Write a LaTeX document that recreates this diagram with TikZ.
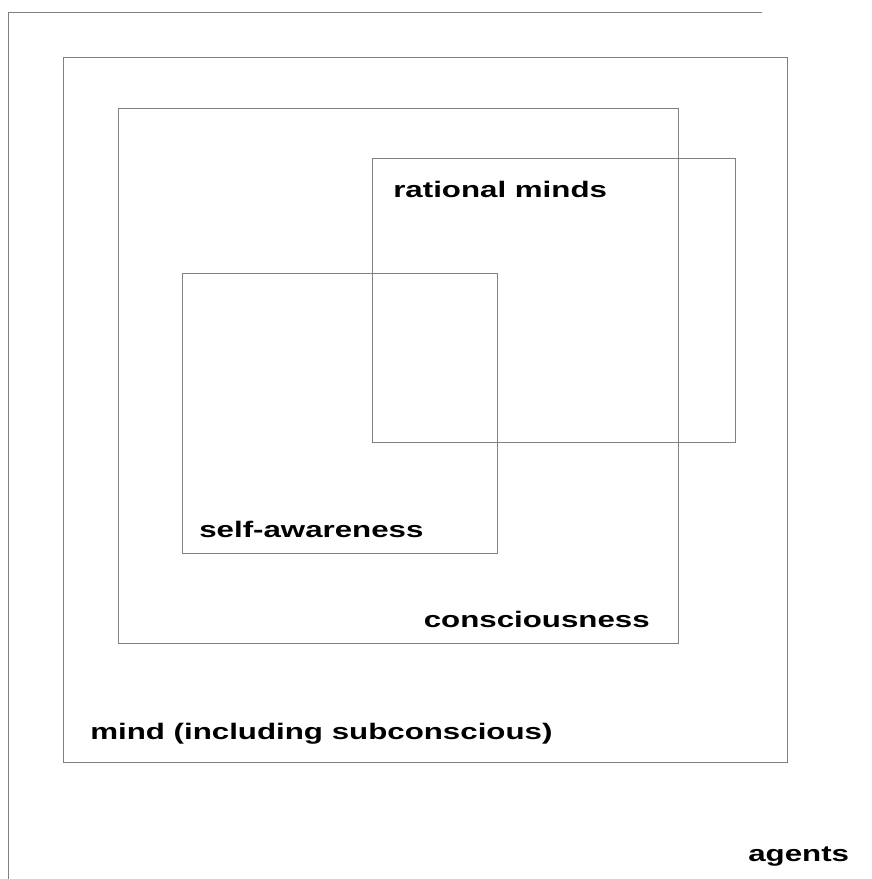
\documentclass[tikz,border=0pt]{standalone}
\usepackage{fontspec}
\setmainfont{Liberation Sans}
\begin{document}
\begin{tikzpicture}[x=1pt,y=-1pt,
  boxline/.style={draw=black!50,line width=1pt},
  lbl/.style={inner sep=0pt,xscale=1.39,font=\fontsize{22.5}{27}\selectfont\bfseries}]
\useasboundingbox (0,0) rectangle (872,879);
% nested regions
\draw[boxline] (8,879) -- (8,12) -- (762,12);
\draw[boxline] (63,57) rectangle (787,762);
\draw[boxline] (118,108) rectangle (678,643);
\draw[boxline] (372,158) rectangle (735,442);
\draw[boxline] (182,273) rectangle (497,553);
% labels
\node[lbl,anchor=base west] (rat) at (393,197) {rational minds};
\node[lbl,anchor=base west] (self) at (199,537) {self-awareness};
\node[lbl,anchor=base east] (cons) at (650,627) {consciousness};
\node[lbl,anchor=base west] (mind) at (90,739) {mind (including subconscious)};
\node[lbl,anchor=base west] (agt) at (748,861) {agents};
\end{tikzpicture}
\end{document}
